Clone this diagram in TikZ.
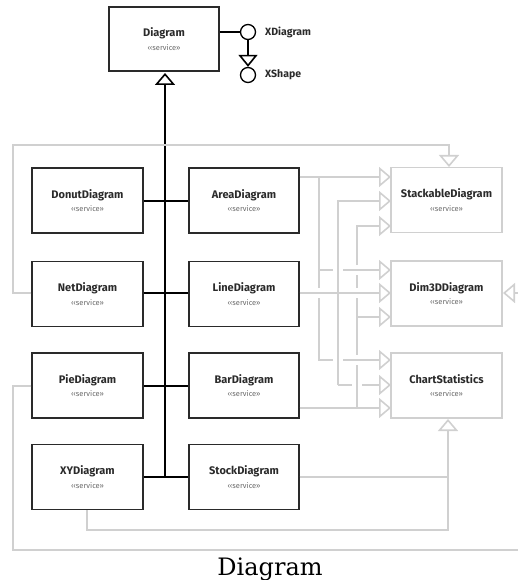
\documentclass[tikz,border=0pt]{standalone}
\usepackage{fontspec}
\setmainfont{DejaVu Serif}
\newfontfamily\boxfont{Fira Sans}
\usetikzlibrary{arrows.meta,calc}
\definecolor{lg}{HTML}{D0D0D0}
\definecolor{dk}{HTML}{2A2A2A}
\definecolor{sv}{HTML}{6A6A6A}
\newcommand{\svc}[1]{{\fontsize{11}{12}\selectfont\bfseries #1}\\[1.5pt]{\fontsize{7.5}{8}\selectfont\color{sv}‹‹service››}}
\begin{document}
\begin{tikzpicture}[x=1pt,y=-1pt,
  box/.style={draw=dk, line width=1.3pt, minimum width=111pt, minimum height=65pt, inner sep=0pt, align=center, font=\boxfont, text=dk},
  gbox/.style={box, draw=lg},
  bl/.style={draw=black, line width=1.6pt},
  gl/.style={draw=lg, line width=1.6pt},
  inh/.style={-{Triangle[open,length=12pt,width=20pt]}},
  lbl/.style={font=\boxfont\fontsize{10.5}{12}\selectfont\bfseries, text=dk, anchor=west, inner sep=0pt},
  iface/.style={circle, draw=black, line width=1.3pt, minimum size=15pt, inner sep=0pt}
]
\useasboundingbox (0,0) rectangle (518,580);

% nodes
\node[box, minimum width=110pt, minimum height=64pt] (diag) at (164,39) {\svc{Diagram}};
\node[iface] (xd) at (248,32) {};
\node[iface] (xs) at (248,75) {};
\node[lbl] (xdl) at (265,32) {XDiagram};
\node[lbl] (xsl) at (265,75) {XShape};

\node[box] (donut) at (87.5,200.5) {\svc{DonutDiagram}};
\node[box] (net)   at (87.5,294)   {\svc{NetDiagram}};
\node[box] (pie)   at (87.5,385.5) {\svc{PieDiagram}};
\node[box] (xy)    at (87.5,477)   {\svc{XYDiagram}};

\node[box, minimum width=110pt] (area)  at (244,200.5) {\svc{AreaDiagram}};
\node[box, minimum width=110pt] (line)  at (244,294)   {\svc{LineDiagram}};
\node[box, minimum width=110pt] (bar)   at (244,385.5) {\svc{BarDiagram}};
\node[box, minimum width=110pt] (stock) at (244,477)   {\svc{StockDiagram}};

\node[gbox] (stack) at (446.5,200)   {\svc{StackableDiagram}};
\node[gbox] (dim)   at (446.5,293.5) {\svc{Dim3DDiagram}};
\node[gbox] (chart) at (446.5,385.5) {\svc{ChartStatistics}};

\node[font=\fontsize{24}{28}\selectfont, anchor=base, inner sep=0pt] (cap) at (270,575) {Diagram};

% interface links
\draw[bl] (diag.east |- xd) -- (xd.west);
\draw[bl, -{Triangle[open,length=12pt,width=19pt]}] (xd.south) -- (xs.north);

% black inheritance tree
\coordinate (trunk) at (165,477);
\draw[bl, inh] (trunk) -- (165,73);
\draw[bl] (donut.east |- 0,201) -- (area.west |- 0,201);
\draw[bl] (net.east |- 0,293) -- (line.west |- 0,293);
\draw[bl] (pie.east |- 0,386) -- (bar.west |- 0,386);
\draw[bl] (xy.east |- trunk) -- (stock.west |- trunk);

% gray outer loops
\draw[gl, inh] (net.west |- 0,293) -- (13,293) -- (13,145) -- (449,145) -- (449,167);
\coordinate (edgeB) at (518,550);
\draw[gl] (pie.west |- 0,386) -- (13,386) -- (13,550) -- (edgeB);
\coordinate (edgeR) at (518,293);
\draw[gl, inh] (edgeR) -- (503,293);
\draw[gl, inh] (xy.south -| 87,0) -- (87,530) -- (448,530) -- (448,419);
\draw[gl] (stock.east |- trunk) -- (448,477);

% gray network: Area
\draw[gl, inh] (area.east |- 0,177) -- (391,177);
\draw[gl] (319,177) -- (319,288);
\draw[gl] (319,298) -- (319,360) -- (333,360);
\draw[gl, inh] (343,360) -- (391,360);
\draw[gl] (319,270) -- (333,270);
\draw[gl, inh] (343,270) -- (391,270);
% Line
\draw[gl, inh] (line.east |- 0,293) -- (391,293);
\draw[gl, inh] (338,385) -- (338,201) -- (391,201);
\draw[gl] (338,385) -- (352,385);
\draw[gl, inh] (362,385) -- (391,385);
% Bar
\draw[gl, inh] (bar.east |- 0,408) -- (391,408);
\draw[gl, inh] (357,265) -- (357,226) -- (391,226);
\draw[gl] (357,275) -- (357,288);
\draw[gl] (357,298) -- (357,355);
\draw[gl] (357,365) -- (357,408);
\draw[gl, inh] (357,317) -- (391,317);
\end{tikzpicture}
\end{document}
